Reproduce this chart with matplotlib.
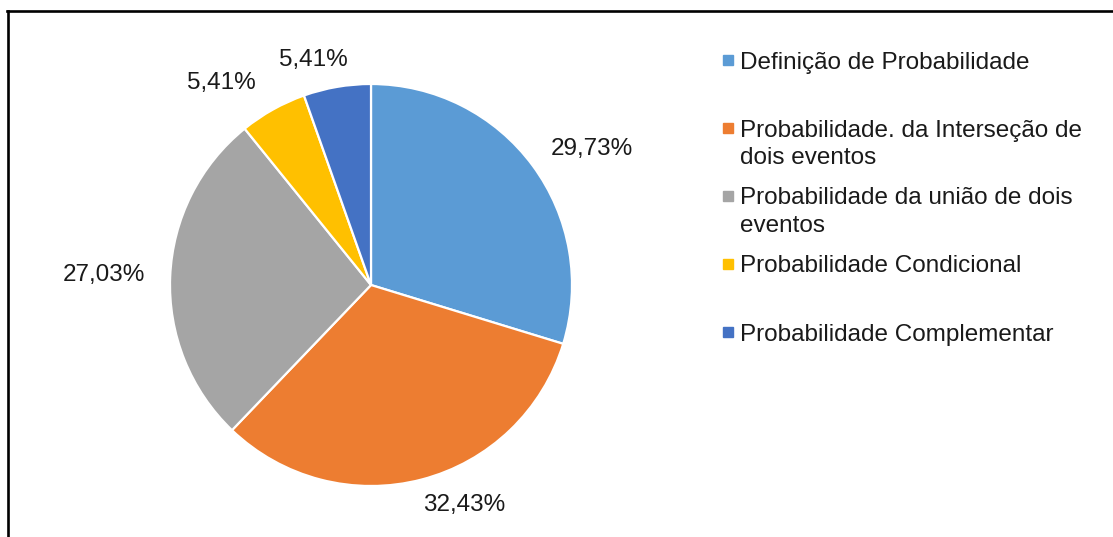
import matplotlib

matplotlib.use("Agg", force=True)
import matplotlib.pyplot as plt
import numpy as np
from matplotlib.lines import Line2D

plt.rcParams["font.family"] = ["Liberation Sans", "DejaVu Sans"]

categories = [
    "Definição de Probabilidade",
    "Probabilidade. da Interseção de\ndois eventos",
    "Probabilidade da união de dois\neventos",
    "Probabilidade Condicional",
    "Probabilidade Complementar",
]
shares = [29.73, 32.43, 27.03, 5.41, 5.41]
colors = ["#5B9BD5", "#ED7D31", "#A5A5A5", "#FFC000", "#4472C4"]

# label placement (radius in pie units, angular nudge in degrees), Excel "best fit" look
label_dist = [1.29, 1.19, 1.33, 1.25, 1.155]
label_shift = [-4.8, 8.2, 0.2, 7.2, 4.7]

W, H = 1113, 537
fig = plt.figure(figsize=(W / 100, H / 100), dpi=100)
fig.patch.set_facecolor("white")

cx, cy, r = 371, 285, 201
ax = fig.add_axes([(cx - r) / W, (H - cy - r) / H, 2 * r / W, 2 * r / H])
wedges, _ = ax.pie(
    shares,
    colors=colors,
    startangle=90,
    counterclock=False,
    wedgeprops={"edgecolor": "white", "linewidth": 1.6},
)
ax.set_xlim(-1, 1)
ax.set_ylim(-1, 1)
ax.set_aspect("auto")
ax.axis("off")

for w, val, d, sh in zip(wedges, shares, label_dist, label_shift):
    ang = np.deg2rad((w.theta1 + w.theta2) / 2 + sh)
    ax.text(d * np.cos(ang), d * np.sin(ang), f"{val:.2f}%".replace(".", ","),
            ha="center", va="center", fontsize=17.5, color="#1a1a1a", clip_on=False)

# legend, Excel-style: fixed slot per entry, wrapped lines
leg_x, leg_y0, slot, line_h = 740, 68.5, 68, 27
for i, (lab, col) in enumerate(zip(categories, colors)):
    base = leg_y0 + i * slot
    fig.add_artist(Line2D([728 / W], [1 - (base - 8.5) / H], marker="s", markersize=6.5,
                          color=col, linestyle="none", transform=fig.transFigure))
    for k, line in enumerate(lab.split("\n")):
        fig.text(leg_x / W, 1 - (base + k * line_h) / H, line, ha="left", va="baseline",
                 fontsize=17.5, color="#1a1a1a")

# frame (top and left edges visible in the crop)
fig.add_artist(Line2D([7 / W, 1], [1 - 10.5 / H, 1 - 10.5 / H], color="black",
                      linewidth=1.9, transform=fig.transFigure))
fig.add_artist(Line2D([7.5 / W, 7.5 / W], [0, 1 - 10.5 / H], color="black",
                      linewidth=1.9, transform=fig.transFigure))

fig.savefig("out.png", dpi=100)
plt.close(fig)
